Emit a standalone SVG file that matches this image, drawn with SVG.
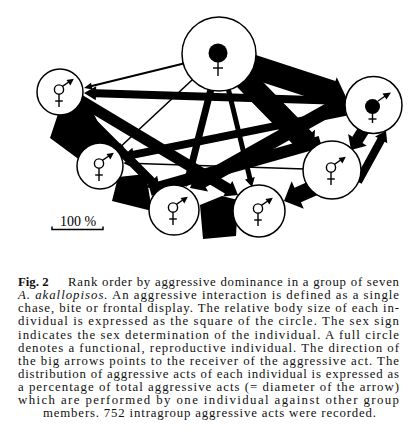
<svg xmlns="http://www.w3.org/2000/svg" width="418" height="432" viewBox="0 0 418 432">
<defs>
<style>
.a{fill:#000;stroke:none}
.n{fill:#fff;stroke:#000;stroke-width:1.5}
.s{fill:none;stroke:#000;stroke-width:1.4}
.k{fill:#000;stroke:none}
.cap{font-family:"Liberation Serif","Times New Roman",serif;font-size:12.8px;fill:#111}
</style>
<g id="herm">
<circle class="s" cx="-1" cy="-2.5" r="4.6"/>
<line class="s" x1="2.4" y1="-5.6" x2="9.5" y2="-10.5"/>
<path class="k" d="M13.8 -13.2 L6.5 -12 L10.4 -6.6 Z"/>
<line class="s" x1="-1" y1="2.1" x2="-1" y2="15"/>
<line class="s" x1="-4.8" y1="9" x2="2.8" y2="9"/>
</g>
</defs>
<rect width="418" height="432" fill="#fff"/>
<g id="connectors">
<path class="a" transform="translate(84 88) rotate(166.2)" d="M0 0L-8-3.5L-8-1L-109-1L-109 1L-8 1L-8 3.5Z"/>
<path class="a" transform="translate(84 93) rotate(181.75)" d="M0 0L-12-7L-12-4L-262-4L-262 4L-12 4L-12 7Z"/>
<path class="a" transform="translate(346 97) rotate(18.1)" d="M0 0L-15-16L-15-12L-106-12L-106 12L-15 12L-15 16Z"/>
<path class="a" transform="translate(314 150) rotate(45.7)" d="M0 0L-14-15L-14-11L-109-11L-109 11L-14 11L-14 15Z"/>
<path class="a" transform="translate(351 150) rotate(122.3)" d="M0 0L-12-11L-12-6L-36-6L-36 6L-12 6L-12 11Z"/>
<path class="a" transform="translate(386 131) rotate(-61.2)" d="M0 0L-10-7L-10-4L-58-4L-58 4L-10 4L-10 7Z"/>
<path class="a" transform="translate(186 187) rotate(104.3)" d="M0 0L-10-6.5L-10-3.5L-105-3.5L-105 3.5L-10 3.5L-10 6.5Z"/>
<path class="a" transform="translate(252 187) rotate(76.4)" d="M0 0L-9-5L-9-2.5L-102-2.5L-102 2.5L-9 2.5L-9 5Z"/>
<path class="a" transform="translate(117 150) rotate(137)" d="M0 0L-7-3L-7-0.8L-103-0.8L-103 0.8L-7 0.8L-7 3Z"/>
<path class="a" transform="translate(123 163) rotate(181.9)" d="M0 0L-7-3L-7-0.8L-182-0.8L-182 0.8L-7 0.8L-7 3Z"/>
<path class="a" transform="translate(122 157) rotate(168.6)" d="M0 0L-12-7L-12-4L-228-4L-228 4L-12 4L-12 7Z"/>
<path class="a" transform="translate(190 188) rotate(150.6)" d="M0 0L-14-12L-14-7L-179-7L-179 7L-14 7L-14 12Z"/>
<path class="a" transform="translate(284 201) rotate(156.2)" d="M0 0L-15-15L-15-8L-37-8L-37 8L-15 8L-15 15Z"/>
<path class="a" transform="translate(238 195) rotate(31)" d="M0 0L-12-9L-12-5.5L-184-5.5L-184 5.5L-12 5.5L-12 9Z"/>
<path class="a" transform="translate(160 190) rotate(45)" d="M0 0L-12-8L-12-4.5L-120-4.5L-120 4.5L-12 4.5L-12 8Z"/>
<path class="a" transform="translate(150 190) rotate(164.2)" d="M0 -6L-177 -6L-177 6L0 6Z"/>
<path class="a" d="M60 108L88 103L109 143L96 172L50 138Z"/>
<path class="a" d="M118 177L146 174L152 211L112 201Z"/>
<path class="a" d="M200 205L222 196L238 200L236 236L203 239Z"/>
</g>
<g id="nodeA">
<circle class="n" cx="219" cy="54" r="37"/>
<circle class="k" cx="218" cy="53" r="9.5"/>
<line class="s" x1="218" y1="60" x2="218" y2="76"/>
<line class="s" x1="213" y1="68" x2="223" y2="68"/>
</g>
<g id="nodeB">
<circle class="n" cx="60" cy="92" r="23"/>
<use href="#herm" x="60" y="92"/>
</g>
<g id="nodeC">
<circle class="n" cx="373.5" cy="105" r="28.5"/>
<circle class="k" cx="372.5" cy="106.5" r="7.5"/>
<line class="s" x1="378" y1="101" x2="386" y2="95.5"/>
<path class="k" d="M391 92.5 L382.5 93.5 L386.5 99.5 Z"/>
<line class="s" x1="372.5" y1="112" x2="372.5" y2="123"/>
<line class="s" x1="368.5" y1="119" x2="376.5" y2="119"/>
</g>
<g id="nodeD">
<circle class="n" cx="100" cy="166" r="23"/>
<use href="#herm" x="100" y="166"/>
</g>
<g id="nodeE">
<circle class="n" cx="174" cy="210" r="25"/>
<use href="#herm" x="174" y="210"/>
</g>
<g id="nodeF">
<circle class="n" cx="259" cy="211" r="26"/>
<use href="#herm" x="259" y="211"/>
</g>
<g id="nodeG">
<circle class="n" cx="332" cy="170" r="29"/>
<use href="#herm" x="332" y="170"/>
</g>
<g id="scale">
<text x="60" y="226" font-family="Liberation Serif, Times New Roman, serif" font-size="14">100 %</text>
<path d="M52 226.5V229.5H103V226.5" fill="none" stroke="#000" stroke-width="1.5"/>
</g>
<g id="caption" class="cap">
<text x="18" y="286" font-weight="bold">Fig. 2</text>
<text x="68" y="286" textLength="331" lengthAdjust="spacing">Rank order by aggressive dominance in a group of seven</text>
<text x="18" y="299" textLength="381" lengthAdjust="spacing"><tspan font-style="italic">A. akallopisos.</tspan> An aggressive interaction is defined as a single</text>
<text x="18" y="312" textLength="381" lengthAdjust="spacing">chase, bite or frontal display. The relative body size of each in-</text>
<text x="18" y="325" textLength="381" lengthAdjust="spacing">dividual is expressed as the square of the circle. The sex sign</text>
<text x="18" y="338.5" textLength="381" lengthAdjust="spacing">indicates the sex determination of the individual. A full circle</text>
<text x="18" y="351.5" textLength="381" lengthAdjust="spacing">denotes a functional, reproductive individual. The direction of</text>
<text x="18" y="364.5" textLength="381" lengthAdjust="spacing">the big arrows points to the receiver of the aggressive act. The</text>
<text x="18" y="377.5" textLength="381" lengthAdjust="spacing">distribution of aggressive acts of each individual is expressed as</text>
<text x="18" y="390.5" textLength="381" lengthAdjust="spacing">a percentage of total aggressive acts (= diameter of the arrow)</text>
<text x="18" y="404" textLength="381" lengthAdjust="spacing">which are performed by one individual against other group</text>
<text x="209.5" y="417" text-anchor="middle" textLength="333" lengthAdjust="spacing">members. 752 intragroup aggressive acts were recorded.</text>
</g>
</svg>
